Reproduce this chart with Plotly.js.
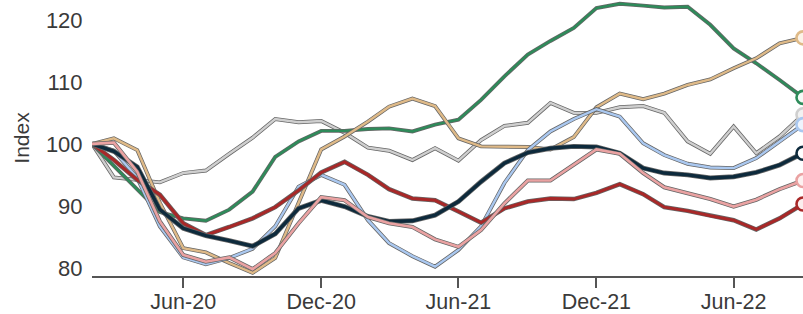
<!DOCTYPE html>
<html>
<head>
<meta charset="utf-8">
<script src="https://cdn.plot.ly/plotly-3.0.1.min.js"></script>
<style>
  html, body { margin: 0; padding: 0; background: #fff; }
  #chart { width: 803px; height: 314px; }
</style>
</head>
<body>
<div id="chart"></div>
<script>
// Monthly observations, Feb-2020 .. Sep-2022
const months = [
  '2020-02-01','2020-03-01','2020-04-01','2020-05-01','2020-06-01','2020-07-01',
  '2020-08-01','2020-09-01','2020-10-01','2020-11-01','2020-12-01','2021-01-01',
  '2021-02-01','2021-03-01','2021-04-01','2021-05-01','2021-06-01','2021-07-01',
  '2021-08-01','2021-09-01','2021-10-01','2021-11-01','2021-12-01','2022-01-01',
  '2022-02-01','2022-03-01','2022-04-01','2022-05-01','2022-06-01','2022-07-01',
  '2022-08-01','2022-09-01'
];

const greySeries = [100, 94.6, 94.2, 93.8, 95.3, 95.7, 98.4, 101.0, 104.0, 103.5, 103.7, 101.8,
  99.4, 98.9, 97.4, 99.3, 97.3, 100.6, 102.9, 103.4, 106.6, 105.0, 105.0, 105.9,
  106.1, 105.0, 100.4, 98.4, 102.8, 98.5, 101.2, 104.7];

const greenSeries = [100, 96.5, 92.7, 89.0, 88.0, 87.6, 89.4, 92.3, 97.9, 100.4, 102.1, 102.1,
  102.4, 102.5, 102.0, 103.1, 103.9, 107.1, 110.9, 114.4, 116.6, 118.7, 121.9, 122.6,
  122.3, 122.0, 122.1, 119.2, 115.4, 113.0, 110.3, 107.5];

const tanSeries = [100, 100.9, 99.0, 90.5, 83.2, 82.5, 80.8, 79.2, 81.6, 90.4, 99.1, 101.2,
  103.6, 106.0, 107.3, 106.1, 100.9, 99.6, 99.6, 99.5, 99.1, 101.1, 105.9, 108.1,
  107.2, 108.1, 109.5, 110.4, 112.2, 113.8, 116.2, 117.1];

const lightBlueSeries = [100, 98.9, 94.5, 86.7, 81.7, 80.6, 81.6, 83.1, 86.7, 93.1, 95.0, 93.4,
  87.7, 84.0, 81.9, 80.2, 82.9, 86.7, 93.7, 99.0, 102.0, 104.0, 105.6, 104.4,
  100.1, 98.2, 96.8, 96.2, 96.1, 97.7, 100.4, 103.1];

const redSeries = [100, 97.4, 94.2, 91.8, 87.2, 85.3, 86.6, 88.0, 89.8, 92.5, 95.4, 97.1,
  95.0, 92.7, 91.2, 90.9, 89.1, 87.3, 89.6, 90.7, 91.2, 91.1, 92.1, 93.5,
  91.9, 89.8, 89.2, 88.4, 87.7, 86.2, 88.0, 90.3];

const navySeries = [100, 98.8, 96.3, 89.4, 86.4, 85.2, 84.4, 83.5, 85.5, 89.6, 90.9, 89.9,
  88.3, 87.5, 87.6, 88.5, 90.7, 93.9, 96.9, 98.6, 99.3, 99.6, 99.5, 98.5,
  96.1, 95.3, 95.0, 94.5, 94.7, 95.4, 96.6, 98.5];

const pinkSeries = [100, 100.2, 95.5, 87.5, 82.1, 81.0, 81.7, 79.8, 82.4, 87.2, 91.4, 90.9,
  88.2, 87.2, 86.6, 84.6, 83.4, 86.1, 90.4, 94.1, 94.1, 96.6, 99.1, 98.4,
  95.3, 93.0, 92.0, 91.1, 89.9, 91.0, 92.7, 94.1];

const tickDates = ['2020-06-01','2020-12-01','2021-06-01','2021-12-01','2022-06-01'];
const tickLabels = ['Jun-20','Dec-20','Jun-21','Dec-21','Jun-22'];
const yTicks = [80, 90, 100, 110, 120];

const styles = [
  {data: greySeries,      color: '#cfcfcf', fill: '#f2f2f2', w: 2.4},
  {data: greenSeries,     color: '#2e8b5a', fill: '#f4fbf7', w: 2.4},
  {data: tanSeries,       color: '#dfba88', fill: '#fbf3e8', w: 2.4},
  {data: lightBlueSeries, color: '#aac8f0', fill: '#eef4fd', w: 2.4},
  {data: redSeries,       color: '#a82828', fill: '#fbeeee', w: 3.0},
  {data: navySeries,      color: '#0d2a3c', fill: '#ffffff', w: 3.4},
  {data: pinkSeries,      color: '#eaa2a2', fill: '#fdf1f1', w: 2.6}
];

const traces = [];
styles.forEach(s => {
  traces.push({
    x: months, y: s.data, type: 'scatter', mode: 'lines',
    line: {color: '#666666', width: s.w + 1.5}, hoverinfo: 'skip', showlegend: false
  });
  traces.push({
    x: months, y: s.data, type: 'scatter', mode: 'lines',
    line: {color: s.color, width: s.w}, showlegend: false
  });
});
styles.forEach(s => {
  const n = s.data.length - 1;
  traces.push({
    x: [months[n]], y: [s.data[n]], type: 'scatter', mode: 'markers',
    marker: {size: 13, color: s.fill, line: {color: s.color, width: 2.6}},
    showlegend: false
  });
});

const layout = {
  width: 803, height: 314,
  margin: {l: 92, r: 0, t: 0, b: 38},
  paper_bgcolor: '#ffffff', plot_bgcolor: '#ffffff',
  font: {family: 'Liberation Sans, Arial, sans-serif', color: '#3a3a3a'},
  showlegend: false,
  xaxis: {
    type: 'date',
    range: ['2020-02-01', '2022-09-01'],
    tickvals: tickDates, ticktext: tickLabels,
    ticks: 'outside', ticklen: 10, tickwidth: 2, tickcolor: '#555555',
    showline: true, linecolor: '#555555', linewidth: 2,
    showgrid: false, zeroline: false,
    ticklabelstandoff: -5,
    tickfont: {size: 21.5, color: '#3a3a3a'}
  },
  yaxis: {
    range: [78.7, 123.2],
    tickvals: yTicks,
    ticks: 'outside', ticklen: 4, tickcolor: 'rgba(0,0,0,0)',
    showline: false, showgrid: false, zeroline: false,
    tickfont: {size: 22, color: '#3a3a3a'},
    title: {text: 'Index', font: {size: 21, color: '#3a3a3a'}, standoff: 10}
  }
};

Plotly.newPlot('chart', traces, layout, {staticPlot: true, displayModeBar: false});
</script>
</body>
</html>
